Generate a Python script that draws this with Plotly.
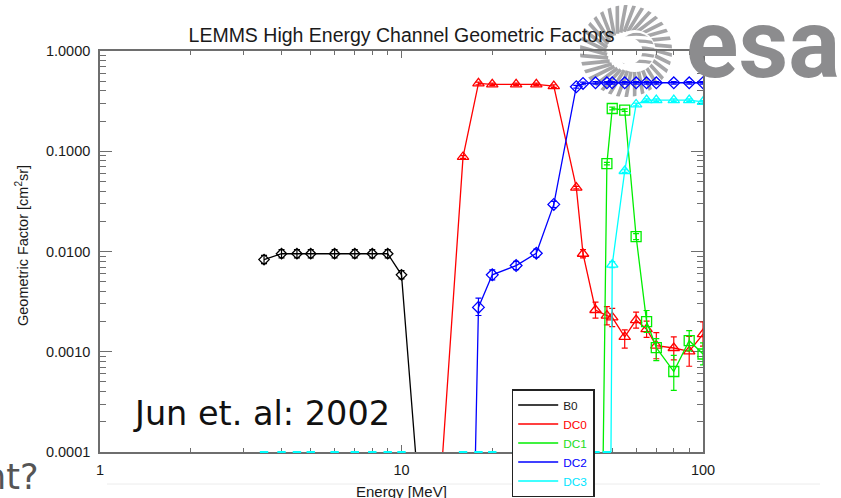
import base64
import math
import plotly.graph_objects as go

# Energy grid of the LEMMS high-energy channels [MeV]
energy = [3.5, 4, 4.5, 5, 6, 7, 8, 9, 10, 16, 18, 20, 24, 28, 32, 38, 40,
          44, 48, 50, 55, 60, 65, 70, 80, 90, 100]

# Geometric factors [cm^2 sr]; 0 = no response in that energy bin
b0 = [0.0083, 0.0095, 0.0095, 0.0095, 0.0095, 0.0095, 0.0095, 0.0095, 0.00585,
      0, 0, 0, 0, 0, 0, 0, 0, 0, 0, 0, 0, 0, 0, 0, 0, 0, 0]
dc0 = [0, 0, 0, 0, 0, 0, 0, 0, 0,
       0.0877, 0.475, 0.465, 0.465, 0.465, 0.447, 0.0434, 0.0095, 0.00261,
       0.00229, 0.0022, 0.00141, 0.00207, 0.00168, 0.00115, 0.00109, 0.00101, 0.0015]
dc1 = [0, 0, 0, 0, 0, 0, 0, 0, 0, 0, 0, 0, 0, 0, 0, 0, 0, 0,
       0.0753, 0.267, 0.257, 0.0141, 0.0020, 0.0011, 0.000635, 0.00129, 0.00095]
dc2 = [0, 0, 0, 0, 0, 0, 0, 0, 0, 0,
       0.00277, 0.00585, 0.00724, 0.0096, 0.0295, 0.44, 0.475, 0.482,
       0.482, 0.482, 0.482, 0.482, 0.482, 0.482, 0.482, 0.482, 0.482]
dc3 = [0, 0, 0, 0, 0, 0, 0, 0, 0, 0, 0, 0, 0, 0, 0, 0, 0, 0, 0,
       0.0074, 0.0635, 0.293, 0.324, 0.324, 0.324, 0.324, 0.311]

# Error bars, upper / lower, in percent of the value
b0_err_up = [10, 10, 10, 10, 10, 10, 10, 10, 10] + [0] * 18
b0_err_dn = [9, 9, 9, 9, 9, 9, 9, 9, 9] + [0] * 18
dc0_err_up = [0] * 9 + [3, 3, 3, 3, 3, 3, 3, 10, 20, 23, 23, 17, 20, 20, 35, 29, 41, 32]
dc0_err_dn = [0] * 9 + [3, 3, 3, 3, 3, 3, 3, 9, 17, 19, 19, 23, 17, 17, 26, 24, 29, 24]
dc1_err_up = [0] * 18 + [3, 3, 3, 7, 29, 23, 45, 26, 29]
dc1_err_dn = [0] * 18 + [3, 3, 3, 7, 22, 26, 35, 21, 22]
dc2_err_up = [0] * 10 + [24, 12, 10, 10, 7, 3, 3, 3, 3, 3, 3, 3, 3, 3, 3, 3, 3]
dc2_err_dn = [0] * 10 + [17, 11, 9, 9, 7, 3, 3, 3, 3, 3, 3, 3, 3, 3, 3, 3, 3]
dc3_err_up = [0] * 19 + [7, 3, 3, 3, 3, 3, 3, 3]
dc3_err_dn = [0] * 19 + [7, 3, 3, 3, 3, 3, 3, 3]

channels = ["B0", "DC0", "DC1", "DC2", "DC3"]
colors = ["#000000", "#ff0000", "#00ee00", "#0000ff", "#00ffff"]
legend_text_colors = ["#1a1a1a", "#ff0000", "#22dd22", "#0000ff", "#00e5ff"]
symbols = ["diamond-open", "triangle-up-open", "square-open", "diamond-open", "triangle-up-open"]
marker_sizes = [8, 10, 10, 9, 10]
series = [b0, dc0, dc1, dc2, dc3]
errs_up = [b0_err_up, dc0_err_up, dc1_err_up, dc2_err_up, dc3_err_up]
errs_dn = [b0_err_dn, dc0_err_dn, dc1_err_dn, dc2_err_dn, dc3_err_dn]

# Empty bins cannot sit on a log axis: they are drawn at a tiny floor so
# the connecting segments drop straight off the bottom of the frame.
FLOOR = 1e-10

# Frame geometry in pixels
W, H = 841, 498
L, R, T, B = 100, 703, 51, 452


def px(x):
    return (x - L) / (R - L)


def py(y):
    return (B - y) / (B - T)


fig = go.Figure()

for name, vals, col, sym, ms, eu, ed in zip(channels, series, colors, symbols,
                                            marker_sizes, errs_up, errs_dn):
    yv = [v if v > 0 else FLOOR for v in vals]
    up = [v * p / 100 for v, p in zip(vals, eu)]
    dn = [v * p / 100 for v, p in zip(vals, ed)]
    fig.add_trace(go.Scatter(
        x=energy, y=yv, mode="lines+markers", name=name, showlegend=False,
        line=dict(color=col, width=1.3),
        marker=dict(symbol=sym, size=ms, color=col, line=dict(color=col, width=1.3)),
        error_y=dict(type="data", symmetric=False, array=up, arrayminus=dn,
                     color=col, thickness=1.2, width=3),
    ))

# DC3 error-bar caps of the empty bins land on the lower frame edge
fig.add_trace(go.Scatter(
    x=[e for e, v in zip(energy, dc3) if v == 0],
    y=[1e-4 for v in dc3 if v == 0],
    mode="markers", showlegend=False, cliponaxis=False, hoverinfo="skip",
    marker=dict(symbol="line-ew", size=6, line=dict(color="#00ffff", width=2)),
))

# Legend: plain line samples with coloured names
for name, col, tcol in zip(channels, colors, legend_text_colors):
    fig.add_trace(go.Scatter(
        x=[None], y=[None], mode="lines",
        name=f"<span style='color:{tcol}'>{name}</span>",
        line=dict(color=col, width=1.3),
    ))

axis_col = "#6e6e6e"
base_font = "Liberation Sans, Arial, sans-serif"
tick_font = dict(family=base_font, size=14.5, color="#1a1a1a")

x_major = [1, 10, 100]
x_minor = [m * d for d in (1, 10) for m in range(2, 10)]
y_major = [1e-4, 1e-3, 1e-2, 1e-1, 1]
y_labels = ["0.0001", "0.0010", "0.0100", "0.1000", "1.0000"]
y_minor = [m * d for d in (1e-4, 1e-3, 1e-2, 1e-1) for m in range(2, 10)]

fig.update_xaxes(
    type="log", range=[0, 2], showgrid=False, zeroline=False,
    showline=True, linecolor=axis_col, linewidth=1.6, mirror="ticks",
    layer="below traces",
    ticks="inside", ticklen=7, tickwidth=1.3, tickcolor=axis_col,
    tickvals=x_major, ticktext=[str(v) for v in x_major], tickfont=tick_font,
    ticklabelstandoff=4,
    minor=dict(ticks="inside", ticklen=4, tickwidth=1.2, tickcolor=axis_col,
               tickvals=x_minor, showgrid=False),
)
fig.update_yaxes(
    type="log", range=[-4, 0], showgrid=False, zeroline=False,
    showline=True, linecolor=axis_col, linewidth=1.6, mirror="ticks",
    layer="below traces",
    ticks="inside", ticklen=12, tickwidth=1.3, tickcolor=axis_col,
    tickvals=y_major, ticktext=y_labels, tickfont=tick_font,
    ticklabelstandoff=5,
    minor=dict(ticks="inside", ticklen=6, tickwidth=1.2, tickcolor=axis_col,
               tickvals=y_minor, showgrid=False),
)

# Striped globe of the agency logo, as an inline SVG
ring = []
n_stripes = 34
for k in range(n_stripes):
    a = 2 * math.pi * k / n_stripes
    x1, y1 = 50 + 20 * math.cos(a), 50 + 20 * math.sin(a)
    xc, yc = 50 + 38 * math.cos(a + 0.22), 50 + 38 * math.sin(a + 0.22)
    x2, y2 = 50 + 56 * math.cos(a + 0.30), 50 + 56 * math.sin(a + 0.30)
    ring.append(f"<path d='M{x1:.1f},{y1:.1f} Q{xc:.1f},{yc:.1f} {x2:.1f},{y2:.1f}'/>")
inner = "".join(
    f"<path d='M36,{y} Q60,{y - 7} 86,{y}'/>" for y in (36, 43, 50, 57, 64)
)
svg = (
    "<svg xmlns='http://www.w3.org/2000/svg' width='100' height='100' viewBox='0 0 100 100'>"
    "<defs><clipPath id='o'><circle cx='50' cy='50' r='48'/></clipPath>"
    "<clipPath id='i'><circle cx='61' cy='50' r='19'/></clipPath></defs>"
    "<g clip-path='url(#o)' fill='none' stroke='#a2a2a4' stroke-width='3.8'>"
    + "".join(ring) +
    "</g>"
    "<circle cx='59' cy='50' r='22' fill='white'/>"
    "<g clip-path='url(#i)' fill='none' stroke='#a2a2a4' stroke-width='3.4'>"
    + inner +
    "</g>"
    "<circle cx='53' cy='50' r='14' fill='white'/>"
    "</svg>"
)
logo_src = "data:image/svg+xml;base64," + base64.b64encode(svg.encode()).decode()

fig.add_layout_image(
    source=logo_src, xref="paper", yref="paper",
    x=px(578), y=py(3), sizex=96 / (R - L), sizey=96 / (B - T),
    xanchor="left", yanchor="top", sizing="stretch", layer="below", opacity=0.95,
)


def note(text, x, y, size, family=base_font, color="#1a1a1a", **kw):
    return dict(text=text, x=px(x), y=py(y), xref="paper", yref="paper",
                showarrow=False, font=dict(family=family, size=size, color=color), **kw)


annotations = [
    note("<b>esa</b>", 684, 44, 97, family="Roboto, Liberation Sans, sans-serif",
         color="#8c8c8e", xanchor="left", yanchor="middle"),
    note("Geometric Factor [cm<sup>2</sup>sr]", 22, 246, 14.5,
         textangle=-90, xanchor="center", yanchor="middle"),
    note("Energy [MeV]", 401.5, 491, 15, xanchor="center", yanchor="middle"),
    note("Jun et. al: 2002", 131, 413, 33.5, family="DejaVu Sans, sans-serif",
         color="#111111", xanchor="left", yanchor="middle"),
    note("nt?", 40, 477, 35, family="DejaVu Sans, sans-serif",
         color="#555555", xanchor="right", yanchor="middle"),
]

fig.update_layout(
    width=W, height=H,
    margin=dict(l=L, r=W - R, t=T, b=H - B, autoexpand=False),
    paper_bgcolor="white", plot_bgcolor="rgba(0,0,0,0)",
    font=dict(family=base_font, color="#1a1a1a"),
    title=dict(text="LEMMS High Energy Channel Geometric Factors",
               x=0.5, xref="paper", xanchor="center",
               y=1 - 35 / H, yref="container", yanchor="middle",
               font=dict(size=19.5, color="#1a1a1a")),
    annotations=annotations,
    shapes=[dict(type="line", xref="paper", yref="paper",
                 x0=px(107), x1=px(820), y0=py(484), y1=py(484),
                 line=dict(color="#ececec", width=1), layer="below")],
    legend=dict(x=px(511.7), y=py(389), xanchor="left", yanchor="top",
                bgcolor="white", bordercolor="#222222", borderwidth=1.5,
                font=dict(size=11.8, family=base_font),
                itemwidth=40, traceorder="normal"),
    showlegend=True,
)

fig.write_html("out.html")
